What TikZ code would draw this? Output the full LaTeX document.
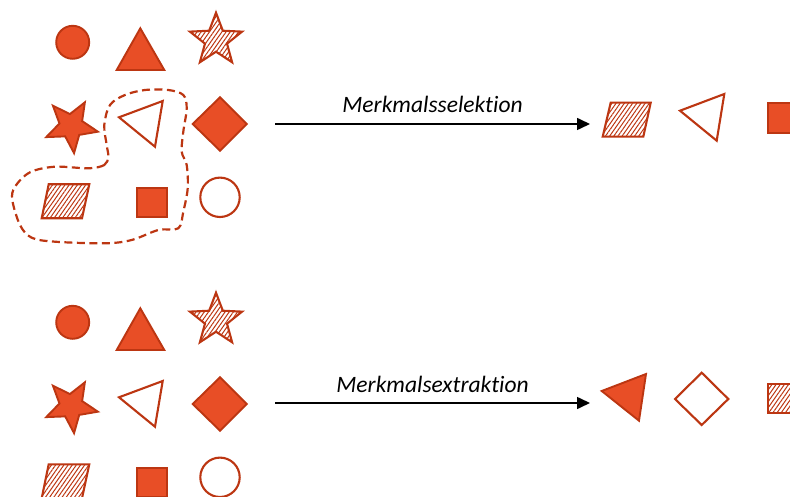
\documentclass[tikz,border=0pt]{standalone}
\usepackage{fontspec}
\setmainfont{Carlito}[Ligatures={NoCommon,NoRare}]
\usetikzlibrary{arrows.meta,patterns.meta}

\definecolor{shapefill}{HTML}{E84E26}
\definecolor{shapeline}{HTML}{BC3612}

\tikzset{
  solidshape/.style={draw=shapeline, fill=shapefill, line width=1.9pt, line join=miter},
  hollowshape/.style={draw=shapeline, fill=white, line width=2.1pt, line join=miter},
  hatchshape/.style={draw=shapeline, line width=2.1pt, line join=miter,
    pattern={Lines[angle=55,distance=3.4pt,line width=1pt]}, pattern color=shapeline},
  grouping/.style={draw=shapeline, line width=2.2pt, dash pattern=on 8pt off 4.5pt},
  process/.style={draw=black, line width=1.6pt, -{Triangle[length=13pt,width=12pt]}},
  proclabel/.style={font=\fontsize{23.5}{28}\selectfont\itshape, inner sep=0pt, anchor=base, yshift=11pt}
}

% the nine symbols of one feature set, top left corner at the scope origin
\newcommand{\symbolset}{%
  % row 1
  \draw[solidshape] (72.7,42.3) circle (16.5);
  \draw[solidshape] (116.7,70) -- (140.3,28.3) -- (164.3,70) -- cycle;
  \begin{scope}[shift={(216,40.1)}]
    \draw[hatchshape] (-90:27.4) -- (-54:11.6) -- (-18:27.4) -- (18:11.6) -- (54:27.4)
      -- (90:11.6) -- (126:27.4) -- (162:11.6) -- (198:27.4) -- (234:11.6) -- cycle;
  \end{scope}
  % row 2
  \begin{scope}[shift={(71.2,126)}]
    \draw[solidshape] (84:27.3) -- (48:12) -- (12:27.3) -- (-24:12) -- (-60:27.3)
      -- (-96:12) -- (-132:27.3) -- (-168:12) -- (156:27.3) -- (120:12) -- cycle;
  \end{scope}
  \draw[hollowshape] (119,117.3) -- (162.7,101) -- (155,146.7) -- cycle;
  \draw[solidshape] (192.7,124) -- (220,97.3) -- (246.7,124) -- (220,150.7) -- cycle;
  % row 3
  \draw[hatchshape] (41.7,218.3) -- (48.7,184.3) -- (89.3,184.3) -- (82,218.3) -- cycle;
  \draw[solidshape] (136.7,187.7) rectangle (166.7,216.7);
  \draw[hollowshape] (220,197.3) circle (19.7);
}

\begin{document}
\begin{tikzpicture}[x=1pt, y=-1pt]
  \useasboundingbox (0,0) rectangle (790,497);

  % feature selection
  \symbolset
  \draw[grouping] plot[smooth cycle, tension=0.55] coordinates {
    (108.3,156.7) (104.3,165) (88.3,168.3) (55,166.7) (30,172.3) (15,186.7)
    (12.3,200) (20,225) (31.7,237.7) (55,241.7) (105,243.3) (131.7,240)
    (158.3,230) (178.3,228.3) (183.3,211.7) (187.7,188.3) (186.7,165)
    (181.7,151.7) (183.3,131.7) (186.7,108.3) (183.3,95) (168.3,90)
    (145,90) (125,95) (110,105) (104.3,125) (106.7,145)};

  \coordinate (selA) at (275,124);
  \coordinate (selB) at (590,124);
  \draw[process] (selA) -- node[proclabel, pos=0.5] (sellabel) {Merkmalsselektion} (selB);

  \draw[hatchshape] (602.7,136.7) -- (610.7,102.7) -- (650.7,102.7) -- (643.3,136.7) -- cycle;
  \draw[hollowshape] (680,110.7) -- (724.3,94) -- (716.7,140.7) -- cycle;
  \draw[solidshape] (767.7,102.7) rectangle (797.7,132.7);

  % feature extraction
  \begin{scope}[yshift=-280pt]
    \symbolset
  \end{scope}

  \coordinate (extA) at (275,403);
  \coordinate (extB) at (590,403);
  \draw[process] (extA) -- node[proclabel, pos=0.5] (extlabel) {Merkmalsextraktion} (extB);

  \draw[solidshape] (601.7,391) -- (646,374) -- (639,420.7) -- cycle;
  \draw[hollowshape] (675,399) -- (701.7,372.7) -- (728.3,399) -- (701.7,425) -- cycle;
  \draw[hatchshape] (767.7,384) rectangle (797.7,413.3);
\end{tikzpicture}
\end{document}
